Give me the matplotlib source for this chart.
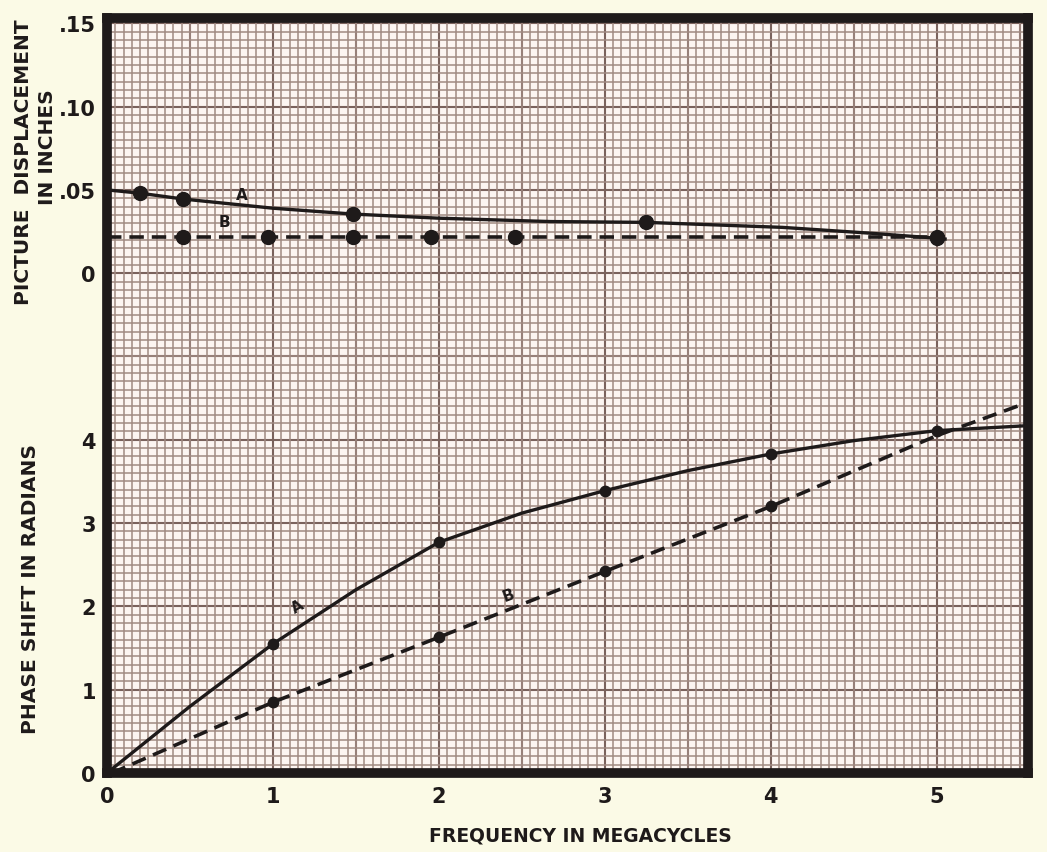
import numpy as np
import matplotlib
matplotlib.use("Agg")
import matplotlib.pyplot as plt

# picture displacement (inches) vs frequency (Mc)
disp_a_x = [0, 0.2, 0.46, 1.0, 1.48, 2.0, 2.67, 3.25, 4.07, 4.6, 5.0, 5.05]
disp_a_y = [0.050, 0.048, 0.0445, 0.039, 0.0355, 0.033, 0.031, 0.0305, 0.0275, 0.024, 0.021, 0.0205]
disp_a_pts_x = [0.2, 0.46, 1.48, 3.25, 5.0]
disp_a_pts_y = [0.048, 0.0445, 0.0355, 0.0305, 0.021]

disp_b_x = [0, 5.05]
disp_b_y = [0.022, 0.022]
disp_b_pts_x = [0.46, 0.97, 1.48, 1.95, 2.46, 5.0]
disp_b_pts_y = [0.022, 0.022, 0.022, 0.022, 0.022, 0.022]

# phase shift (radians) vs frequency
phase_a_x = [0, 0.5, 1, 1.5, 2, 2.5, 3, 3.5, 4, 4.5, 5, 5.55]
phase_a_y = [0, 0.8, 1.55, 2.2, 2.77, 3.12, 3.39, 3.63, 3.83, 3.99, 4.11, 4.17]
phase_a_pts_x = [1, 2, 3, 4, 5]
phase_a_pts_y = [1.55, 2.77, 3.39, 3.83, 4.11]

phase_b_x = [0.03, 1, 2, 3, 4, 5, 5.55]
phase_b_y = [0.0, 0.85, 1.63, 2.42, 3.2, 4.05, 4.45]
phase_b_pts_x = [1, 2, 3, 4]
phase_b_pts_y = [0.85, 1.63, 2.42, 3.2]

x_ticks = [0, 1, 2, 3, 4, 5]
phase_ticks = [0, 1, 2, 3, 4]
disp_ticks = [0, 0.05, 0.10, 0.15]
disp_tick_labels = ["0", ".05", ".10", ".15"]

# displacement is drawn on the same paper: 0.05 in per radian square, zero at 6
offset = 6.0
per_unit = 0.05
def d2y(v):
    return offset + np.asarray(v) / per_unit

fig = plt.figure(figsize=(10.47, 8.53), dpi=100, facecolor="#fbfae6")
ax = fig.add_axes([0.1022, 0.0926, 0.8797, 0.8848])
ax.set_facecolor("#fcf5f1")
ax.set_xlim(0, 5.55)
ax.set_ylim(0, 9.06)

# graph paper
ax.set_xticks(np.arange(0, 5.56, 0.05), minor=True)
ax.set_yticks(np.arange(0, 9.06, 0.1), minor=True)
ax.grid(which="minor", color="#a08a82", lw=1.1, zorder=0)
for gx in np.arange(0, 5.56, 0.5):
    ax.axvline(gx, color="#7a625c", lw=1.5, zorder=0.5)
for gy in np.arange(0, 9.1, 1.0):
    ax.axhline(gy, color="#7a625c", lw=1.5, zorder=0.5)

ink = "#1e1a1a"
dash = (0, (4, 2.2))

ax.plot(disp_a_x, d2y(disp_a_y), color=ink, lw=2.4, zorder=3)
ax.plot(disp_a_pts_x, d2y(disp_a_pts_y), "o", color=ink, ms=10, zorder=4)
ax.plot(disp_b_x, d2y(disp_b_y), color=ink, lw=2.6, ls=dash, zorder=3)
ax.plot(disp_b_pts_x, d2y(disp_b_pts_y), "o", color=ink, ms=10, zorder=4)

ax.plot(phase_a_x, phase_a_y, color=ink, lw=2.4, zorder=3)
ax.plot(phase_a_pts_x, phase_a_pts_y, "o", color=ink, ms=7.5, zorder=4)
ax.plot(phase_b_x, phase_b_y, color=ink, lw=2.6, ls=dash, zorder=3)
ax.plot(phase_b_pts_x, phase_b_pts_y, "o", color=ink, ms=7.5, zorder=4)

lab = dict(color=ink, fontsize=11, fontweight="bold", ha="center", va="center", zorder=5)
ax.text(0.81, 6.95, "A", **lab)
ax.text(0.71, 6.62, "B", **lab)
ax.text(1.15, 2.0, "A", rotation=30, **lab)
ax.text(2.42, 2.14, "B", rotation=20, **lab)

# ticks
ax.set_xticks(x_ticks)
ax.set_xticklabels([str(v) for v in x_ticks])
ax.set_yticks(list(phase_ticks) + list(d2y(disp_ticks)))
ax.set_yticklabels([str(v) for v in phase_ticks] + disp_tick_labels)
ax.tick_params(which="both", length=0)
ax.tick_params(axis="x", pad=9, labelsize=15, labelcolor=ink)
ax.tick_params(axis="y", pad=8, labelsize=15, labelcolor=ink)
for t in ax.get_xticklabels() + ax.get_yticklabels():
    t.set_fontweight("bold")

for s in ax.spines.values():
    s.set_linewidth(7)
    s.set_color(ink)

fig.text(0.554, 0.02, "FREQUENCY IN MEGACYCLES", ha="center", va="center",
         fontsize=13.5, fontweight="bold", color=ink)
fig.text(0.029, 0.309, "PHASE SHIFT IN RADIANS", rotation=90, ha="center", va="center",
         fontsize=14.5, fontweight="bold", color=ink)
fig.text(0.022, 0.81, "PICTURE  DISPLACEMENT", rotation=90, ha="center", va="center",
         fontsize=14.5, fontweight="bold", color=ink)
fig.text(0.045, 0.827, "IN INCHES", rotation=90, ha="center", va="center",
         fontsize=14.5, fontweight="bold", color=ink)

fig.savefig("out.png", dpi=100, facecolor=fig.get_facecolor())
